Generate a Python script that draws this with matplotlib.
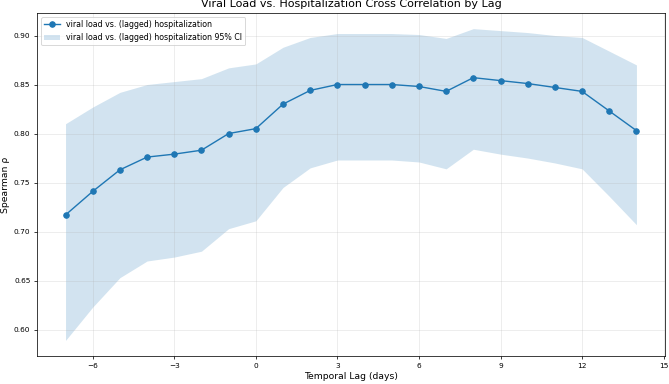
import numpy as np
import matplotlib
matplotlib.use('Agg')
import matplotlib.pyplot as plt

lags = [-7, -6, -5, -4, -3, -2, -1, 0, 1, 2, 3, 4, 5, 6, 7, 8, 9, 10, 11, 12, 13, 14]
rho = [0.717, 0.741, 0.763, 0.776, 0.779, 0.783, 0.800, 0.805, 0.830, 0.844, 0.850,
       0.850, 0.850, 0.848, 0.843, 0.857, 0.854, 0.851, 0.847, 0.843, 0.823, 0.803]
ci_low = [0.589, 0.623, 0.653, 0.670, 0.674, 0.680, 0.703, 0.711, 0.745, 0.765, 0.773,
          0.773, 0.773, 0.771, 0.764, 0.784, 0.779, 0.775, 0.770, 0.764, 0.736, 0.707]
ci_high = [0.810, 0.827, 0.842, 0.850, 0.853, 0.856, 0.867, 0.871, 0.888, 0.898, 0.902,
           0.902, 0.902, 0.901, 0.897, 0.907, 0.905, 0.903, 0.900, 0.898, 0.884, 0.870]

label = 'viral load vs. (lagged) hospitalization'

fig, ax = plt.subplots(figsize=(10, 5.74), dpi=66.9)
fig.subplots_adjust(left=0.0553, right=0.994, top=0.966, bottom=0.0729)

ax.plot(lags, rho, marker='o', color='#1f77b4', linewidth=1.5, markersize=6, label=label)
ax.fill_between(lags, ci_low, ci_high, color='#1f77b4', alpha=0.2, linewidth=0,
                label=label + ' 95% CI')

ax.set_xticks(np.arange(-6, 16, 3))
ax.tick_params(labelsize=8)
ax.grid(True, alpha=0.3)
ax.set_title('Viral Load vs. Hospitalization Cross Correlation by Lag')
ax.set_xlabel('Temporal Lag (days)')
ax.set_ylabel('Spearman ρ')
ax.legend(loc='upper left', fontsize=8.5)

fig.savefig('out.png', dpi=66.9)
